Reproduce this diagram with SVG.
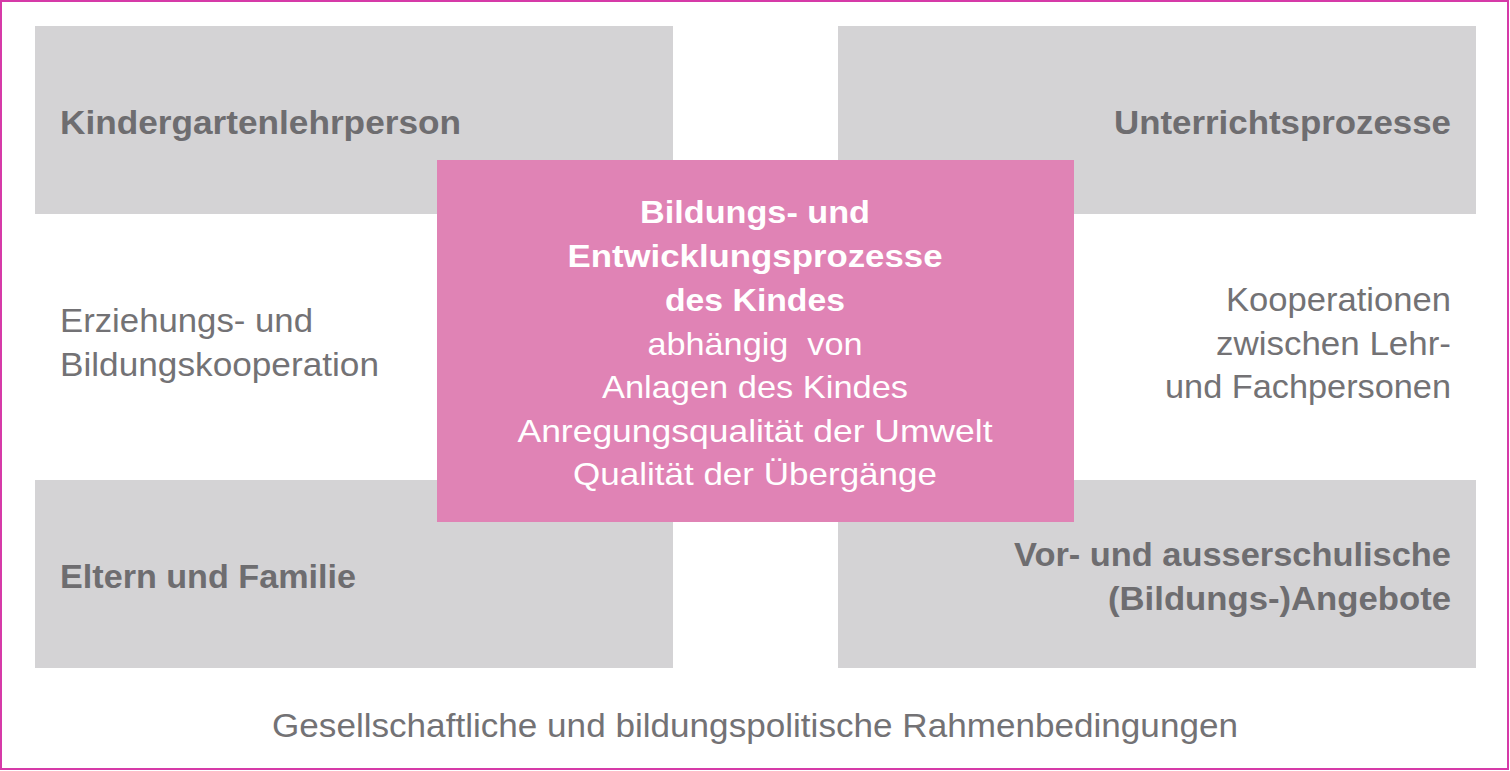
<svg xmlns="http://www.w3.org/2000/svg" width="1510" height="771" viewBox="0 0 1510 771">
<style>
.box{fill:#d4d3d5}
.core{fill:#e083b5}
.b{font-family:"Liberation Sans",Arial,sans-serif;font-weight:bold;font-size:34px;fill:#6e6d70}
.r{font-family:"Liberation Sans",Arial,sans-serif;font-size:33px;fill:#737275}
.cb{font-family:"Liberation Sans",Arial,sans-serif;font-weight:bold;font-size:32px;fill:#ffffff;text-anchor:middle}
.cr{font-family:"Liberation Sans",Arial,sans-serif;font-size:32px;fill:#ffffff;text-anchor:middle}
.end{text-anchor:end}
</style>
<rect x="1" y="1" width="1507" height="768" fill="#ffffff" stroke="#d63aa8" stroke-width="2"/>
<g id="kindergartenlehrperson">
<rect class="box" x="35" y="26" width="638" height="188"/>
<text class="b" x="60" y="134" textLength="401" lengthAdjust="spacingAndGlyphs">Kindergartenlehrperson</text>
</g>
<g id="unterrichtsprozesse">
<rect class="box" x="838" y="26" width="638" height="188"/>
<text class="b end" x="1451" y="134" textLength="337" lengthAdjust="spacingAndGlyphs">Unterrichtsprozesse</text>
</g>
<g id="eltern">
<rect class="box" x="35" y="480" width="638" height="188"/>
<text class="b" x="60" y="588" textLength="296" lengthAdjust="spacingAndGlyphs">Eltern und Familie</text>
</g>
<g id="angebote">
<rect class="box" x="838" y="480" width="638" height="188"/>
<text class="b end" x="1451" y="566" textLength="437" lengthAdjust="spacingAndGlyphs">Vor- und ausserschulische</text>
<text class="b end" x="1451" y="610" textLength="343" lengthAdjust="spacingAndGlyphs">(Bildungs-)Angebote</text>
</g>
<g id="kooperation-links">
<text class="r" x="60" y="332" textLength="253" lengthAdjust="spacingAndGlyphs">Erziehungs- und</text>
<text class="r" x="60" y="376" textLength="319" lengthAdjust="spacingAndGlyphs">Bildungskooperation</text>
</g>
<g id="kooperation-rechts">
<text class="r end" x="1451" y="311" textLength="225" lengthAdjust="spacingAndGlyphs">Kooperationen</text>
<text class="r end" x="1451" y="355" textLength="235" lengthAdjust="spacingAndGlyphs">zwischen Lehr-</text>
<text class="r end" x="1451" y="398" textLength="286" lengthAdjust="spacingAndGlyphs">und Fachpersonen</text>
</g>
<g id="zentrum">
<rect class="core" x="437" y="160" width="637" height="362"/>
<text class="cb" x="755" y="223" textLength="230" lengthAdjust="spacingAndGlyphs">Bildungs- und</text>
<text class="cb" x="755" y="267" textLength="375" lengthAdjust="spacingAndGlyphs">Entwicklungsprozesse</text>
<text class="cb" x="755" y="311" textLength="180" lengthAdjust="spacingAndGlyphs">des Kindes</text>
<text class="cr" x="755" y="355" textLength="215" lengthAdjust="spacingAndGlyphs" xml:space="preserve">abhängig  von</text>
<text class="cr" x="755" y="398" textLength="306" lengthAdjust="spacingAndGlyphs">Anlagen des Kindes</text>
<text class="cr" x="755" y="442" textLength="475" lengthAdjust="spacingAndGlyphs">Anregungsqualität der Umwelt</text>
<text class="cr" x="755" y="485" textLength="364" lengthAdjust="spacingAndGlyphs">Qualität der Übergänge</text>
</g>
<g id="rahmen">
<text class="r" x="272" y="737" textLength="966" lengthAdjust="spacingAndGlyphs">Gesellschaftliche und bildungspolitische Rahmenbedingungen</text>
</g>
<g id="connectors"></g>
</svg>
